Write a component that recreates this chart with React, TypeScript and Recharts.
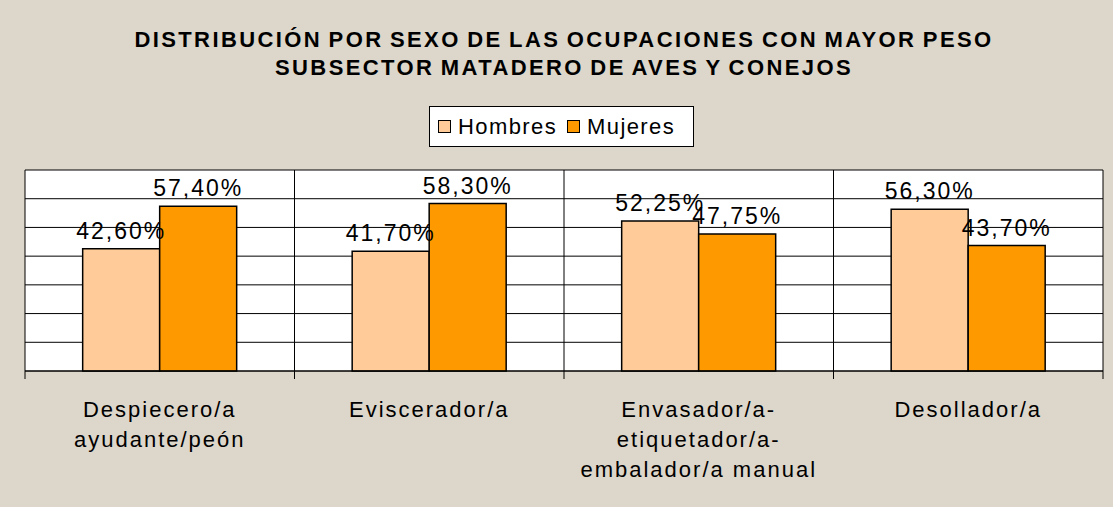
import React from "react";
import { BarChart, Bar, XAxis, YAxis, CartesianGrid, Legend, LabelList } from "recharts";

const categories = [
  "Despiecero/a\nayudante/peón",
  "Eviscerador/a",
  "Envasador/a-\netiquetador/a-\nembalador/a manual",
  "Desollador/a",
];
const hombres = [42.6, 41.7, 52.25, 56.3];
const mujeres = [57.4, 58.3, 47.75, 43.7];
const yTicks = [0, 10, 20, 30, 40, 50, 60, 70];

const data = categories.map((name, i) => ({ name, hombres: hombres[i], mujeres: mujeres[i] }));

const FONT = "Arial, 'Liberation Sans', sans-serif";

const fmt = (v: any) => Number(v).toFixed(2).replace(".", ",") + "%";

function CategoryTick(props: any) {
  const { x, y, payload, index, visibleTicksCount } = props;
  const half = payload?.offset ?? 0;
  const lines = String(payload.value).split("\n");
  return (
    <g>
      <line x1={x - half} y1={y} x2={x - half} y2={y + 8} stroke="#000" />
      {index === visibleTicksCount - 1 && (
        <line x1={x + half} y1={y} x2={x + half} y2={y + 8} stroke="#000" />
      )}
      <text x={x} y={y + 46} textAnchor="middle" fontSize={22} fontFamily={FONT} fill="#000" letterSpacing={2}>
        {lines.map((l, i) => (
          <tspan key={i} x={x} dy={i === 0 ? 0 : 30}>
            {l}
          </tspan>
        ))}
      </text>
    </g>
  );
}

function LegendBox() {
  const items = [
    { label: "Hombres", color: "#FFCC99" },
    { label: "Mujeres", color: "#FF9900" },
  ];
  return (
    <div
      style={{
        width: 255,
        height: 39,
        background: "#fff",
        border: "1.5px solid #000",
        display: "flex",
        alignItems: "center",
        paddingLeft: 8,
        boxSizing: "content-box",
        fontFamily: FONT,
        fontSize: 22,
        letterSpacing: 1.4,
        color: "#000",
      }}
    >
      {items.map((it) => (
        <span key={it.label} style={{ display: "flex", alignItems: "center", marginRight: 10 }}>
          <span style={{ width: 11, height: 11, background: it.color, border: "1.5px solid #000", marginRight: 7 }} />
          {it.label}
        </span>
      ))}
    </div>
  );
}

export default function App() {
  return (
    <div style={{ position: "relative", width: 1113, height: 507, background: "#ddd6ca" }}>
      <style>{`body{margin:0}`}</style>
      <div
        style={{
          position: "absolute",
          top: 26,
          left: 14,
          width: 1100,
          textAlign: "center",
          fontFamily: FONT,
          fontWeight: 700,
          fontSize: 22,
          letterSpacing: 2.4,
          wordSpacing: -2,
          lineHeight: "28px",
          color: "#000",
          zIndex: 2,
        }}
      >
        DISTRIBUCIÓN POR SEXO DE LAS OCUPACIONES CON MAYOR PESO
        <br />
        SUBSECTOR MATADERO DE AVES Y CONEJOS
      </div>
      <BarChart
        width={1113}
        height={507}
        data={data}
        margin={{ top: 170, right: 10, left: 25, bottom: 0 }}
        barCategoryGap="21.4%"
        barGap={0}
      >
        <CartesianGrid
          stroke="#000"
          fill="#fff"
          fillOpacity={1}
          verticalCoordinatesGenerator={({ offset }: any) =>
            categories
              .map((_, i) => offset.left + (i * offset.width) / categories.length)
              .concat(offset.left + offset.width)
          }
        />
        <XAxis
          dataKey="name"
          height={136}
          interval={0}
          tickLine={false}
          tickSize={0}
          tickMargin={0}
          axisLine={{ stroke: "#000" }}
          tick={<CategoryTick />}
        />
        <YAxis
          domain={[0, 70]}
          ticks={yTicks}
          interval={0}
          width={0}
          tick={{ fill: "transparent" }}
          axisLine={false}
          tickLine={false}
        />
        <Legend
          verticalAlign="middle"
          align="center"
          layout="horizontal"
          wrapperStyle={{ top: 106, left: 429, width: 266, height: 42 }}
          content={() => <LegendBox />}
        />
        <Bar dataKey="hombres" name="Hombres" fill="#FFCC99" stroke="#000" strokeWidth={1.5} isAnimationActive={false}>
          <LabelList dataKey="hombres" position="top" offset={10} formatter={fmt} fill="#000" fontSize={23} fontFamily={FONT} letterSpacing={2} />
        </Bar>
        <Bar dataKey="mujeres" name="Mujeres" fill="#FF9900" stroke="#000" strokeWidth={1.5} isAnimationActive={false}>
          <LabelList dataKey="mujeres" position="top" offset={10} formatter={fmt} fill="#000" fontSize={23} fontFamily={FONT} letterSpacing={2} />
        </Bar>
      </BarChart>
    </div>
  );
}
